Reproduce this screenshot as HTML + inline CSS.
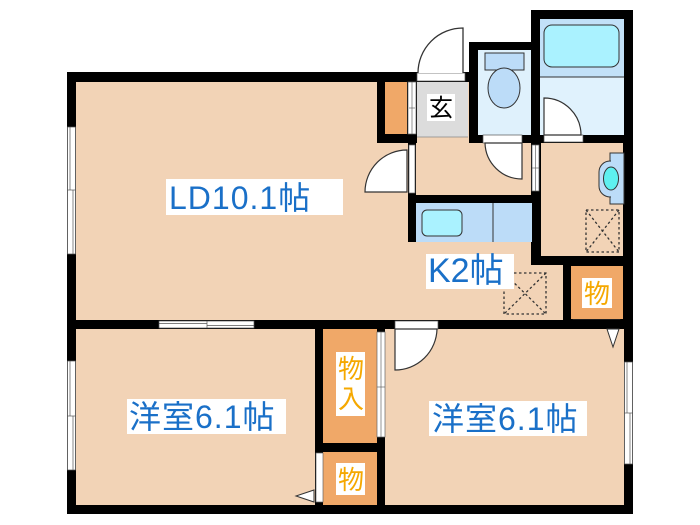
<!DOCTYPE html>
<html><head><meta charset="utf-8"><style>
html,body{margin:0;padding:0;background:#fff;}
svg{display:block;}
.t{font-family:"Liberation Sans","Noto Sans CJK JP",sans-serif;}
.b{letter-spacing:1px;}
</style></head><body>
<svg width="700" height="525" viewBox="0 0 700 525" xmlns="http://www.w3.org/2000/svg">
<rect width="700" height="525" fill="#fff"/>
<!-- building silhouette -->
<polygon points="67,72 469,72 469,42 531,42 531,10 633,10 633,514 67,514" fill="#000"/>
<!-- LD + K peach -->
<rect x="76" y="82" width="487" height="238" fill="#f2d3b6"/>
<!-- closet block -->
<rect x="377" y="72" width="40" height="71" fill="#000"/>
<rect x="385" y="82" width="22" height="52" fill="#f0a868"/>
<rect x="408" y="82" width="8" height="52" fill="#fff" stroke="#666" stroke-width="0.7"/>
<line x1="412" y1="82" x2="412" y2="134" stroke="#666" stroke-width="0.7"/>
<line x1="409" y1="108" x2="415" y2="108" stroke="#666" stroke-width="0.7"/>
<!-- genkan -->
<rect x="417" y="82" width="51" height="55" fill="#dcdcdc"/>
<line x1="417" y1="137" x2="468" y2="137" stroke="#888" stroke-width="0.7"/>
<rect x="417" y="73" width="48" height="8" fill="#fff" stroke="#555" stroke-width="0.7"/>
<path d="M463,73 L463,28 A45,45 0 0 0 418,73" fill="#fff" stroke="#333" stroke-width="1.3"/>
<!-- toilet -->
<rect x="469" y="42" width="71" height="101" fill="#000"/>
<rect x="478" y="50" width="53" height="85" fill="#dff1fc"/>
<rect x="485" y="53" width="39" height="17" fill="#bcdcf8" stroke="#333" stroke-width="1"/>
<ellipse cx="504" cy="88" rx="16" ry="20" fill="#bcdcf8" stroke="#333" stroke-width="1"/>
<!-- bath -->
<rect x="531" y="10" width="102" height="133" fill="#000"/>
<rect x="540" y="19" width="84" height="116" fill="#e0f2fd"/>
<rect x="540" y="19" width="84" height="58" fill="#c2e1f8"/>
<line x1="540" y1="77" x2="624" y2="77" stroke="#333" stroke-width="1"/>
<rect x="544" y="25" width="75" height="42" rx="8" fill="#aaf2ff" stroke="#333" stroke-width="1"/>
<rect x="544" y="135" width="39" height="7" fill="#fff" stroke="#555" stroke-width="0.7"/>
<path d="M544,135 L544,98 A37,37 0 0 1 581,135 Z" fill="#fff" stroke="#333" stroke-width="1.2"/>
<!-- toilet door -->
<rect x="483" y="135" width="39" height="8" fill="#fff" stroke="#555" stroke-width="0.7"/>
<path d="M522,143 L522,179 A37,37 0 0 1 485,143 Z" fill="#fff" stroke="#333" stroke-width="1.2"/>
<!-- washroom -->
<rect x="531" y="143" width="102" height="122" fill="#000"/>
<rect x="541" y="143" width="82" height="113" fill="#f2d3b6"/>
<rect x="532" y="145" width="7" height="46" fill="#fff" stroke="#666" stroke-width="0.7"/>
<line x1="535.5" y1="145" x2="535.5" y2="191" stroke="#666" stroke-width="0.7"/>
<line x1="532" y1="168" x2="539" y2="168" stroke="#666" stroke-width="0.7"/>
<rect x="610" y="153" width="14" height="51" fill="#bcdcf8" stroke="#333" stroke-width="1"/>
<rect x="599" y="161" width="22" height="36" rx="11" fill="#bcdcf8" stroke="#333" stroke-width="1"/>
<rect x="611" y="154" width="12" height="49" fill="#bcdcf8"/>
<ellipse cx="611" cy="178.5" rx="7.5" ry="11.5" fill="#5ef0f0" stroke="#333" stroke-width="1"/>
<g stroke="#333" stroke-width="1.3" stroke-dasharray="2.5,2.5" fill="none">
<rect x="586" y="210" width="33" height="42"/>
<line x1="586" y1="210" x2="619" y2="252"/>
<line x1="619" y1="210" x2="586" y2="252"/>
</g>
<!-- LD-hall door -->
<rect x="408" y="143" width="8" height="52" fill="#000"/>
<rect x="409" y="145" width="6" height="48" fill="#fff" stroke="#666" stroke-width="0.7"/>
<path d="M407,192 L365,192 A42,42 0 0 1 407,150 Z" fill="#fff" stroke="#333" stroke-width="1.2"/>
<!-- counter -->
<rect x="408" y="195" width="124" height="47" fill="#000"/>
<rect x="416" y="203" width="116" height="39" fill="#bcdcf8"/>
<line x1="493" y1="203" x2="493" y2="242" stroke="#333" stroke-width="1"/>
<rect x="422" y="210" width="40" height="26" rx="5" fill="#aaf2ff" stroke="#333" stroke-width="1"/>
<!-- K dotted -->
<g stroke="#333" stroke-width="1.3" stroke-dasharray="2.5,2.5" fill="none">
<rect x="504" y="273" width="42" height="41"/>
<line x1="504" y1="273" x2="546" y2="314"/>
<line x1="546" y1="273" x2="504" y2="314"/>
</g>
<!-- right mono closet -->
<rect x="563" y="257" width="70" height="72" fill="#000"/>
<rect x="571" y="266" width="52" height="53" fill="#f0a868"/>
<rect x="573" y="320" width="47" height="8" fill="#fff" stroke="#555" stroke-width="0.7"/>
<!-- middle wall -->
<rect x="67" y="320" width="566" height="9" fill="#000"/>
<rect x="159" y="321" width="95" height="7" fill="#fff" stroke="#555" stroke-width="0.7"/>
<line x1="159" y1="323.5" x2="207" y2="323.5" stroke="#555" stroke-width="0.7"/>
<line x1="207" y1="325.5" x2="254" y2="325.5" stroke="#555" stroke-width="0.7"/>
<line x1="207" y1="321" x2="207" y2="328" stroke="#555" stroke-width="0.7"/>
<!-- lower rooms -->
<rect x="76" y="329" width="239" height="176" fill="#f2d3b6"/>
<rect x="385" y="329" width="239" height="176" fill="#f2d3b6"/>
<rect x="323" y="329" width="54" height="114" fill="#f0a868"/>
<rect x="323" y="452" width="54" height="53" fill="#f0a868"/>
<rect x="377" y="332" width="8" height="105" fill="#fff" stroke="#666" stroke-width="0.7"/>
<line x1="381" y1="332" x2="381" y2="437" stroke="#666" stroke-width="0.7"/>
<line x1="377" y1="387" x2="385" y2="387" stroke="#666" stroke-width="0.7"/>
<rect x="316" y="453" width="7" height="49" fill="#fff" stroke="#666" stroke-width="0.7"/>
<polygon points="314,490 314,502 296,496" fill="#fff" stroke="#333" stroke-width="1"/>
<polygon points="607,329 619,329 613,347" fill="#fff" stroke="#333" stroke-width="1"/>
<!-- bedroom door -->
<rect x="395" y="321" width="43" height="8" fill="#fff" stroke="#555" stroke-width="0.7"/>
<path d="M395,329 L395,370 A42,42 0 0 0 437,329 Z" fill="#fff" stroke="#333" stroke-width="1.2"/>
<!-- windows -->
<g fill="#fff" stroke="#555" stroke-width="0.7">
<rect x="67.5" y="127" width="8" height="127"/>
<rect x="67.5" y="361" width="8" height="109"/>
<rect x="624.5" y="362" width="8" height="102"/>
</g>
<g stroke="#555" stroke-width="0.7">
<line x1="70" y1="127" x2="70" y2="190"/><line x1="73" y1="190" x2="73" y2="254"/><line x1="67" y1="190" x2="76" y2="190"/>
<line x1="70" y1="361" x2="70" y2="416"/><line x1="73" y1="416" x2="73" y2="470"/><line x1="67" y1="416" x2="76" y2="416"/>
<line x1="627" y1="362" x2="627" y2="413"/><line x1="630" y1="413" x2="630" y2="464"/><line x1="624" y1="413" x2="633" y2="413"/>
</g>
<!-- labels -->
<rect x="166" y="179" width="177" height="36" fill="#fff"/>
<text x="169" y="209" class="t b" font-size="32" fill="#1a70c8">LD10.1帖</text>
<rect x="426" y="254" width="88" height="35" fill="#fff"/>
<text x="428" y="282" class="t" font-size="34" fill="#1a70c8">K2帖</text>
<rect x="127" y="399" width="159" height="35" fill="#fff"/>
<text x="129" y="428" class="t b" font-size="32" fill="#1a70c8">洋室6.1帖</text>
<rect x="429" y="401" width="158" height="35" fill="#fff"/>
<text x="432" y="430" class="t b" font-size="32" fill="#1a70c8">洋室6.1帖</text>
<rect x="427" y="94" width="28" height="27" fill="#fff"/>
<text x="429" y="116" class="t" font-size="24" fill="#000">玄</text>
<rect x="582" y="278" width="30" height="30" fill="#fff"/>
<text x="584" y="303" class="t" font-size="26" fill="#f5a800">物</text>
<rect x="336" y="352" width="29" height="64" fill="#fff"/>
<text x="338" y="378" class="t" font-size="26" fill="#f5a800">物</text>
<text x="338" y="408" class="t" font-size="26" fill="#f5a800">入</text>
<rect x="336" y="463" width="29" height="32" fill="#fff"/>
<text x="338" y="489" class="t" font-size="26" fill="#f5a800">物</text>
</svg>
</body></html>
